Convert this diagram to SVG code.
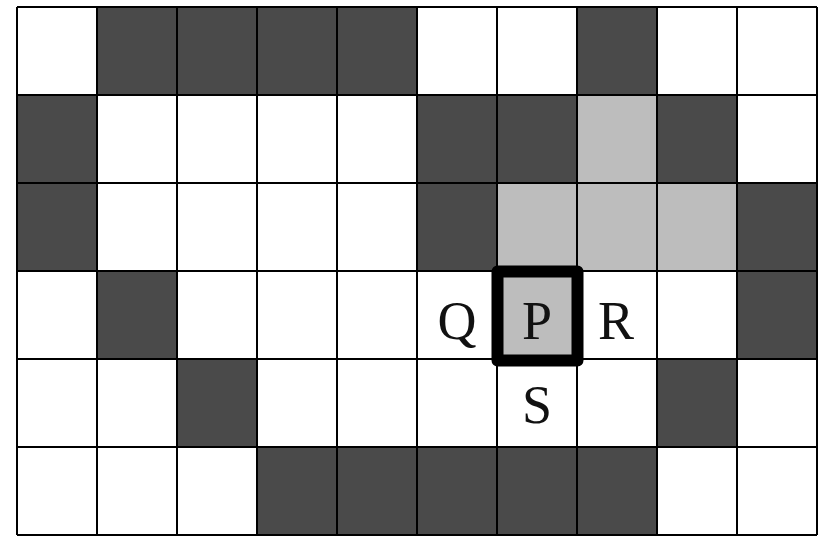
<svg xmlns="http://www.w3.org/2000/svg" width="825" height="538" viewBox="0 0 825 538">
<style>
.d{fill:#4a4a4a}
.l{fill:#bdbdbd}
.g{stroke:#000;stroke-width:2;fill:none}
.t{font-family:"Liberation Serif",serif;font-size:54px;text-anchor:middle;fill:#111}
</style>
<rect x="0" y="0" width="825" height="538" fill="#fff"/>
<g id="cells">
<rect class="d" x="97" y="7" width="320" height="88"/>
<rect class="d" x="577" y="7" width="80" height="88"/>
<rect class="d" x="17" y="95" width="80" height="176"/>
<rect class="d" x="417" y="95" width="160" height="88"/>
<rect class="l" x="577" y="95" width="80" height="88"/>
<rect class="d" x="657" y="95" width="80" height="88"/>
<rect class="d" x="417" y="183" width="80" height="88"/>
<rect class="l" x="497" y="183" width="240" height="88"/>
<rect class="d" x="737" y="183" width="80" height="176"/>
<rect class="d" x="97" y="271" width="80" height="88"/>
<rect class="l" x="497" y="271" width="80" height="88"/>
<rect class="d" x="177" y="359" width="80" height="88"/>
<rect class="d" x="657" y="359" width="80" height="88"/>
<rect class="d" x="257" y="447" width="400" height="88"/>
</g>
<g id="grid" class="g">
<path d="M17 7V535M97 7V535M177 7V535M257 7V535M337 7V535M417 7V535M497 7V535M577 7V535M657 7V535M737 7V535M817 7V535"/>
<path d="M17 7H817M17 95H817M17 183H817M17 271H817M17 359H817M17 447H817M17 535H817"/>
</g>
<g id="P">
<rect x="497.5" y="271.5" width="80" height="89" fill="none" stroke="#000" stroke-width="12" stroke-linejoin="round"/>
<text class="t" x="537" y="339">P</text>
</g>
<g id="Q"><text class="t" x="457" y="339">Q</text></g>
<g id="R"><text class="t" x="616" y="339">R</text></g>
<g id="S"><text class="t" x="537" y="423">S</text></g>
</svg>
